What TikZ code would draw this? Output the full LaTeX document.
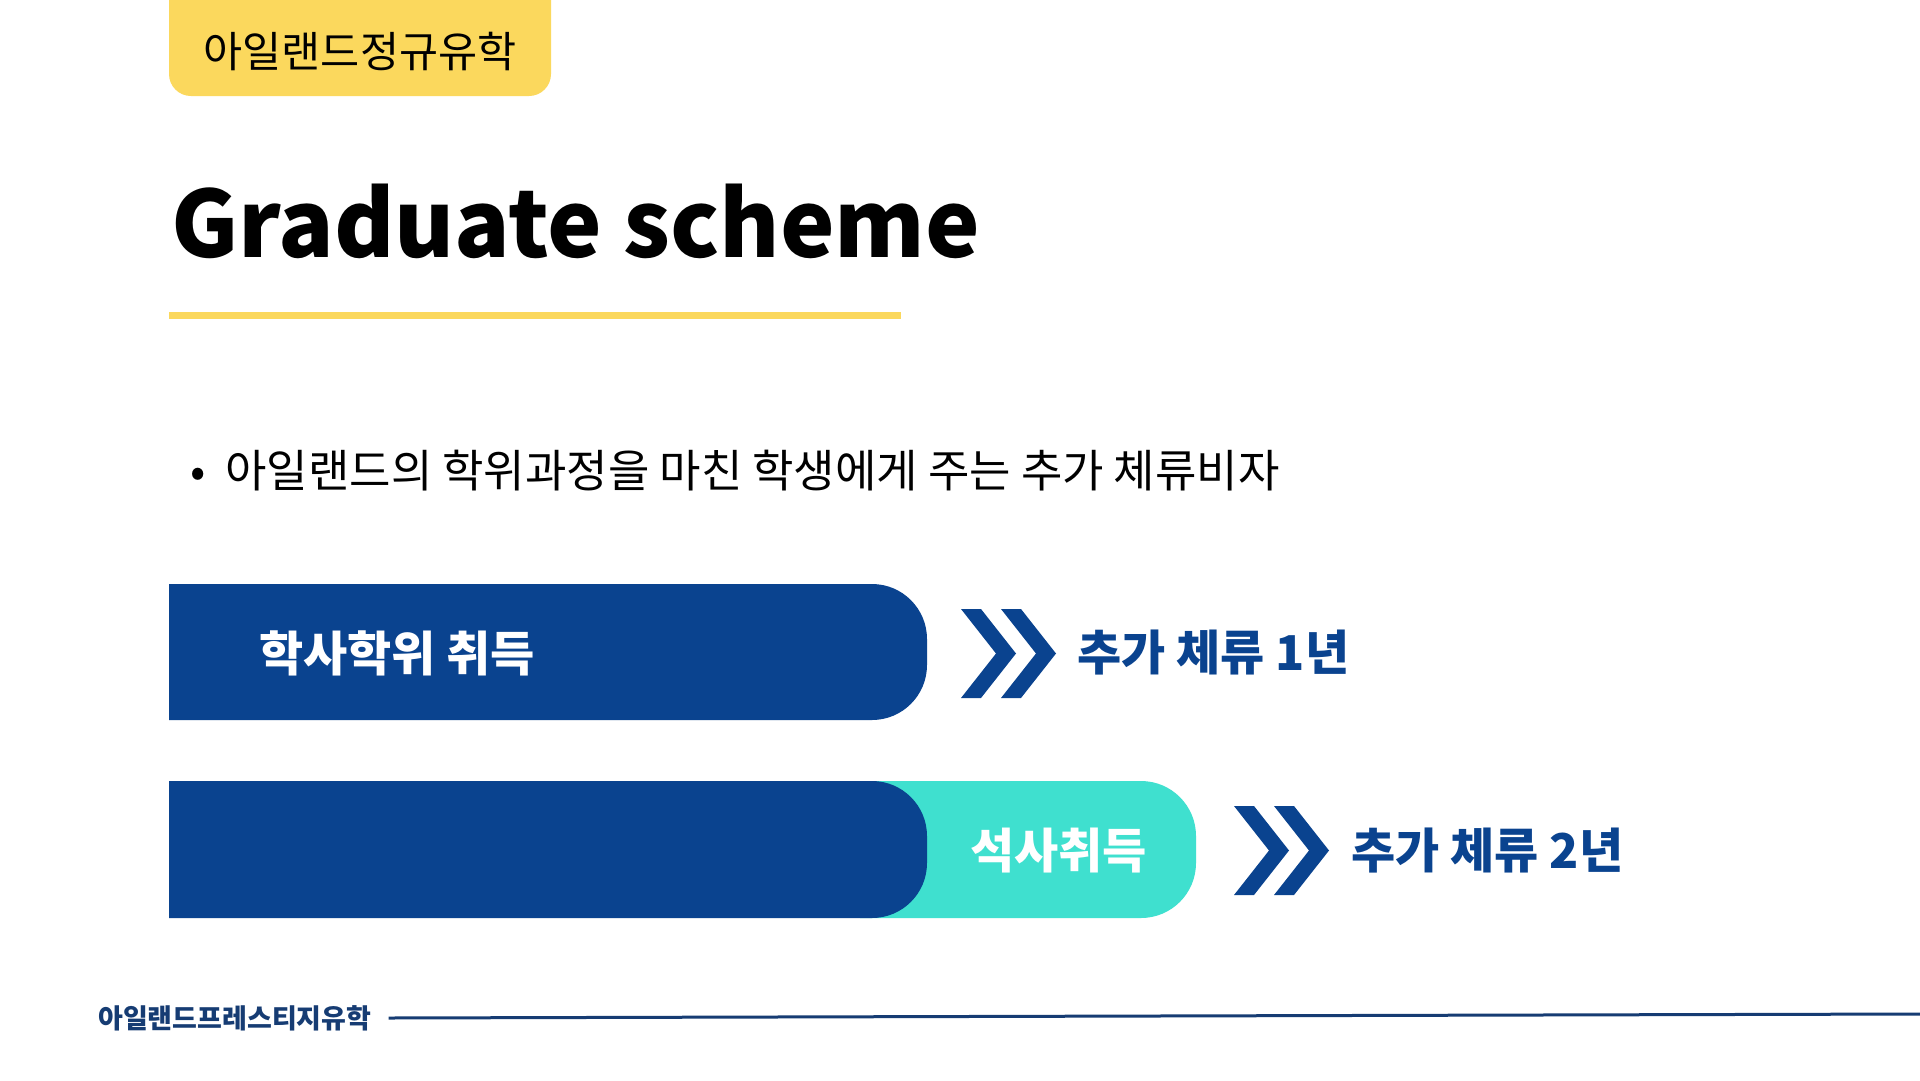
\documentclass[tikz,border=0pt]{standalone}
\usepackage{fontspec}
\setmainfont{Noto Sans CJK KR}
\definecolor{tagyellow}{HTML}{FBD85D}
\definecolor{navy}{HTML}{0A438F}
\definecolor{teal2}{HTML}{3FE0CF}
\definecolor{footnavy}{HTML}{163C73}
\begin{document}
\begin{tikzpicture}[x=1pt,y=-1pt]
\tikzstyle{tag} = [fill=tagyellow,rounded corners=22];
\tikzstyle{bar} = [fill=navy];
\tikzstyle{master} = [fill=teal2];
\tikzstyle{chevron} = [fill=navy];
\tikzstyle{tagtext} = [font=\fontsize{42.5}{46}\selectfont,inner sep=0];
\tikzstyle{title} = [font=\fontsize{92}{100}\selectfont\bfseries,inner sep=0];
\tikzstyle{bullet} = [font=\fontsize{45}{50}\selectfont,inner sep=0];
\tikzstyle{bartext} = [font=\fontsize{48}{54}\selectfont\bfseries,color=white,inner sep=0];
\tikzstyle{staytext} = [font=\fontsize{48}{54}\selectfont\bfseries,color=navy,inner sep=0];
\tikzstyle{foottext} = [font=\fontsize{27}{30}\selectfont\bfseries,color=footnavy,inner sep=0];
\useasboundingbox (0,0) rectangle (1920,1080);
\fill[white] (0,0) rectangle (1920,1080);

% top tag and title
\fill[tag] (169,-40) rectangle (551,96);
\node [tagtext] (tag) at (360,51) {아일랜드정규유학};
\node [title,anchor=base west] (title) at (171,257) {Graduate scheme};
\draw [tagyellow,line width=7] (169,315) -- (901,315);
\node [bullet,anchor=west] (visa) at (190,471) {\textbullet\hspace{20pt}아일랜드의 학위과정을 마친 학생에게 주는 추가 체류비자};

% row 1
\fill[bar] (169,584) [rounded corners=55] -- (927,584) -- (927,720) [sharp corners] -- (169,720) -- cycle;
\node [bartext,anchor=west] (bachelor) at (259,653) {학사학위 취득};
\fill[chevron,shift={(961,609)}] (0,0) -- (20,0) -- (55,44.5) -- (20,89) -- (0,89) -- (35,44.5) -- cycle;
\fill[chevron,shift={(1001,609)}] (0,0) -- (20,0) -- (55,44.5) -- (20,89) -- (0,89) -- (35,44.5) -- cycle;
\node [staytext,anchor=west] (stay1) at (1077,653) {추가 체류 1년};

% row 2
\fill[master] (860,781) [rounded corners=55] -- (1196,781) -- (1196,918) [sharp corners] -- (860,918) -- cycle;
\fill[bar] (169,781) [rounded corners=55] -- (927,781) -- (927,918) [sharp corners] -- (169,918) -- cycle;
\node [bartext,anchor=west] (master) at (970,851) {석사취득};
\fill[chevron,shift={(1234,806)}] (0,0) -- (20,0) -- (55,44.5) -- (20,89) -- (0,89) -- (35,44.5) -- cycle;
\fill[chevron,shift={(1274,806)}] (0,0) -- (20,0) -- (55,44.5) -- (20,89) -- (0,89) -- (35,44.5) -- cycle;
\node [staytext,anchor=west] (stay2) at (1351,851) {추가 체류 2년};

% footer
\node [foottext,anchor=west] (foot) at (98,1018) {아일랜드프레스티지유학};
\coordinate (lineend) at (1920,1014);
\draw [footnavy,line width=3] ([xshift=17pt]foot.east) -- (lineend);
\end{tikzpicture}
\end{document}
